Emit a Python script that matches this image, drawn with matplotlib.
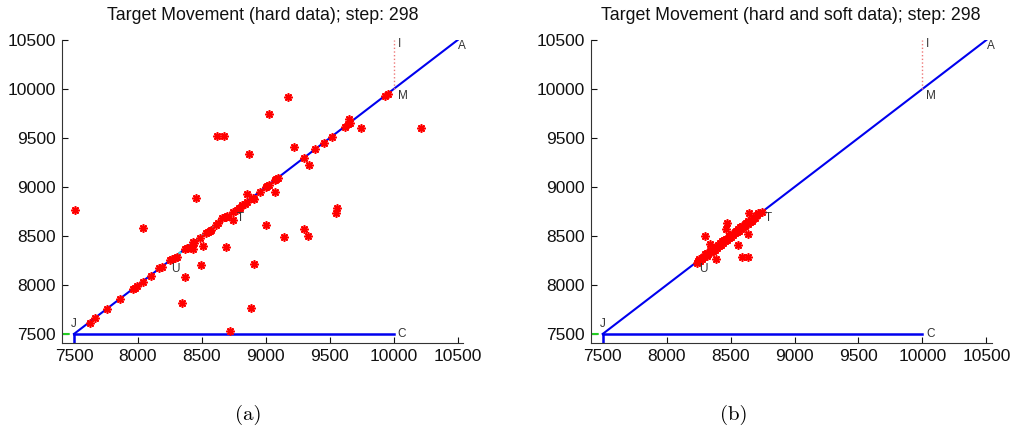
import matplotlib.pyplot as plt

# hard data (panel a)
hard_x = [7625, 7664, 7755, 7860, 7958, 7975, 7990, 8036, 8099, 8167, 8185, 8250,
          8270, 8289, 8302, 8367, 8380, 8390, 8432, 8442, 8484, 8529, 8549, 8562,
          8575, 8614, 8627, 8654, 8680, 8687, 8700, 8745, 8771, 8790, 8797, 8810,
          8836, 8850, 8901, 8909, 8953, 9005, 9010, 9026, 9073, 9083, 9096, 9300,
          9385, 9453, 9521, 9620, 9640, 9651, 9655, 9930, 9956,
          7505, 8042, 8453, 8849, 8865, 8620, 8670, 9021, 9172, 9221, 9338, 9747,
          10211, 8745, 9002, 9141, 9297, 9331, 9547, 9560, 9075, 8432, 8510, 8685,
          8497, 8906, 8367, 8341, 8883, 8721]
hard_y = [7615, 7660, 7752, 7857, 7956, 7970, 7985, 8034, 8095, 8170, 8187, 8255,
          8262, 8272, 8282, 8364, 8374, 8380, 8442, 8432, 8476, 8527, 8544, 8554,
          8560, 8612, 8630, 8680, 8690, 8690, 8700, 8748, 8770, 8790, 8782, 8816,
          8830, 8845, 8885, 8874, 8952, 9003, 9010, 9020, 9071, 9079, 9095, 9299,
          9388, 9446, 9513, 9616, 9640, 9690, 9655, 9932, 9949,
          8765, 8585, 8885, 8925, 9334, 9520, 9520, 9742, 9915, 9408, 9224, 9605,
          9605, 8663, 8612, 8493, 8568, 8500, 8738, 8789, 8952, 8364, 8398, 8385,
          8204, 8211, 8085, 7813, 7762, 7531]

# hard and soft data (panel b)
soft_x = [8234, 8248, 8255, 8262, 8275, 8281, 8293, 8300, 8312, 8318, 8326, 8338,
          8345, 8352, 8361, 8370, 8377, 8386, 8392, 8404, 8411, 8417, 8428, 8436,
          8441, 8452, 8458, 8466, 8473, 8484, 8490, 8497, 8506, 8514, 8519, 8531,
          8537, 8545, 8552, 8561, 8568, 8577, 8584, 8590, 8601, 8609, 8616, 8624,
          8633, 8640, 8651, 8657, 8668, 8676, 8690, 8705, 8716, 8742,
          8299, 8469, 8463, 8338, 8383, 8560, 8633, 8591, 8633, 8643]
soft_y = [8221, 8240, 8262, 8248, 8270, 8290, 8281, 8312, 8300, 8330, 8318, 8345,
          8332, 8360, 8348, 8376, 8362, 8390, 8378, 8410, 8396, 8425, 8412, 8444,
          8428, 8458, 8445, 8474, 8462, 8496, 8478, 8505, 8492, 8522, 8506, 8540,
          8526, 8556, 8540, 8572, 8555, 8590, 8572, 8602, 8588, 8618, 8604, 8634,
          8620, 8652, 8640, 8664, 8656, 8684, 8688, 8710, 8731, 8748,
          8500, 8636, 8568, 8418, 8262, 8408, 8520, 8283, 8283, 8731]

titles = ["Target Movement (hard data); step: 298",
          "Target Movement (hard and soft data); step: 298"]
captions = ["(a)", "(b)"]
caption_x = [248, 734]
ticks = [7500, 8000, 8500, 9000, 9500, 10000, 10500]

pts = {"J": (7500, 7500), "A": (10500, 10500), "C": (10000, 7500),
       "M": (10000, 10000), "I": (10000, 10500), "T": (8750, 8750), "U": (8290, 8290)}

W, H = 1013, 434
fig = plt.figure(figsize=(W / 100, H / 100), dpi=100)
plt.rcParams['font.family'] = ['Liberation Sans', 'DejaVu Sans']

lefts = [61.8, 590.5]
data = [(hard_x, hard_y), (soft_x, soft_y)]
star = (8, 2, 0)
lab_col = '#333333'

for i in range(2):
    ax = fig.add_axes([lefts[i] / W, 1 - 343.3 / H, 401 / W, 303.8 / H])
    J, A, C, M, I, T, U = (pts[k] for k in "JACMITU")

    ax.plot([7405, J[0]], [J[1], J[1]], '--', color='#22cc22', lw=1.5, zorder=2)
    ax.plot([J[0], J[0]], [7405, J[1]], '-', color='#0000ee', lw=1.8, zorder=2)
    ax.plot([J[0], C[0]], [J[1], C[1]], '-', color='#0000ee', lw=1.8, zorder=2)
    ax.plot([J[0], A[0]], [J[1], A[1]], '-', color='#0000ee', lw=1.5, zorder=2)
    ax.plot([U[0], T[0]], [U[1], T[1]], '--', color='#33dddd', lw=1.5, zorder=2.5)
    ax.plot([M[0], I[0]], [M[1], I[1]], ':', color='#ee7777', lw=1.0, zorder=2)

    xs, ys = data[i]
    ax.plot(xs, ys, linestyle='none', marker=star, ms=6, mew=1.2,
            color='red', zorder=3)

    fs = 8.5
    ax.text(A[0] + 5, A[1] - 60, "A", fontsize=fs, color=lab_col, ha='left', va='center')
    ax.text(I[0] + 30, I[1] - 40, "I", fontsize=fs, color=lab_col, ha='left', va='center')
    ax.text(M[0] + 30, M[1] - 70, "M", fontsize=fs, color=lab_col, ha='left', va='center')
    ax.text(J[0], J[1] + 100, "J", fontsize=fs, color=lab_col, ha='center', va='center')
    ax.text(C[0] + 30, C[1], "C", fontsize=fs, color=lab_col, ha='left', va='center')
    ax.text(T[0] + 20, T[1] - 65, "T", fontsize=fs, color=lab_col, ha='left', va='center')
    ax.text(U[0], U[1] - 130, "U", fontsize=fs, color=lab_col, ha='center', va='center')

    ax.set_xlim(7405, 10540)
    ax.set_ylim(7405, 10505)
    ax.set_xticks(ticks)
    ax.set_yticks(ticks)
    ax.tick_params(direction='in', length=4, width=0.8, labelsize=12.5,
                   colors='#111111', pad=4)
    for s in ['top', 'right']:
        ax.spines[s].set_visible(False)
    for s in ['left', 'bottom']:
        ax.spines[s].set_color('#333333')
        ax.spines[s].set_linewidth(0.8)
    ax.set_title(titles[i], fontsize=12.8, pad=14, color='#111111')

    fig.text(caption_x[i] / W, 1 - 415 / H, captions[i], family='cmr10',
             fontsize=15, ha='center', va='center')

fig.savefig("out.png", dpi=100)
